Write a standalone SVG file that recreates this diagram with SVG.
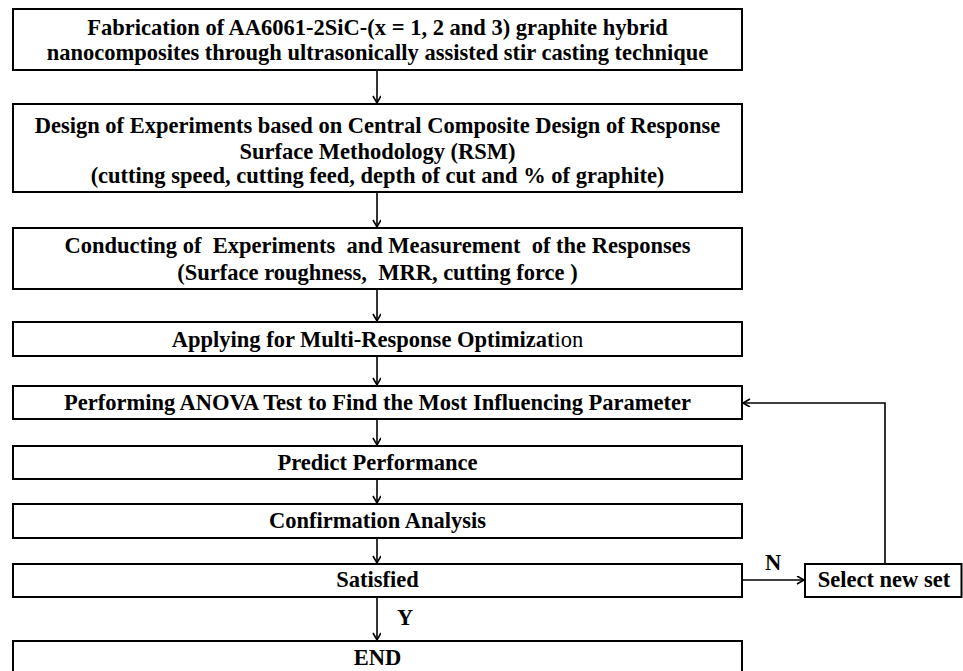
<svg xmlns="http://www.w3.org/2000/svg" width="963" height="671" viewBox="0 0 963 671">
<defs>
<marker id="ah" markerWidth="10" markerHeight="10" refX="8" refY="4" orient="auto" markerUnits="userSpaceOnUse">
<path d="M1,0 L8,4 L1,8" fill="none" stroke="#000" stroke-width="1.6"/>
</marker>
<style>
.box{fill:#fff;stroke:#000;stroke-width:2}
.t{font-family:"Liberation Serif","Times New Roman",serif;font-size:22.5px;font-weight:bold;text-anchor:middle;fill:#000}
.n{font-weight:normal}
.c{fill:none;stroke:#000;stroke-width:1.6;marker-end:url(#ah)}
</style>
</defs>
<rect width="963" height="671" fill="#fff"/>
<g id="connectors">
<line class="c" x1="377" y1="70" x2="377" y2="103"/>
<line class="c" x1="377" y1="192" x2="377" y2="227"/>
<line class="c" x1="377" y1="289" x2="377" y2="321"/>
<line class="c" x1="377" y1="356" x2="377" y2="385"/>
<line class="c" x1="377" y1="419" x2="377" y2="445"/>
<line class="c" x1="377" y1="479" x2="377" y2="503"/>
<line class="c" x1="377" y1="538" x2="377" y2="563"/>
<line class="c" x1="377" y1="597" x2="377" y2="640"/>
<line class="c" x1="742" y1="580" x2="804" y2="580"/>
<polyline class="c" points="885,564 885,403 743,403"/>
<text class="t" x="405" y="625">Y</text>
<text class="t" x="773" y="570">N</text>
</g>
<g id="n1">
<rect class="box" x="13" y="9" width="729" height="61"/>
<text class="t" x="377.5" y="35">Fabrication of AA6061-2SiC-(x = 1, 2 and 3) graphite hybrid</text>
<text class="t" x="377.5" y="60">nanocomposites through ultrasonically assisted stir casting technique</text>
</g>
<g id="n2">
<rect class="box" x="13" y="104" width="729" height="88"/>
<text class="t" x="377.5" y="133">Design of Experiments based on Central Composite Design of Response</text>
<text class="t" x="377.5" y="159">Surface Methodology (RSM)</text>
<text class="t" x="377.5" y="183">(cutting speed, cutting feed, depth of cut and % of graphite)</text>
</g>
<g id="n3">
<rect class="box" x="13" y="228" width="729" height="61"/>
<text class="t" x="377.5" y="253">Conducting of &#160;Experiments &#160;and Measurement &#160;of the Responses</text>
<text class="t" x="377.5" y="280">(Surface roughness, &#160;MRR, cutting force )</text>
</g>
<g id="n4">
<rect class="box" x="13" y="322" width="729" height="34"/>
<text class="t" x="377.5" y="347">Applying for Multi-Response Optimizat<tspan class="n">ion</tspan></text>
</g>
<g id="n5">
<rect class="box" x="13" y="386" width="729" height="33"/>
<text class="t" x="377.5" y="410">Performing ANOVA Test to Find the Most Influencing Parameter</text>
</g>
<g id="n6">
<rect class="box" x="13" y="446" width="729" height="33"/>
<text class="t" x="377.5" y="470">Predict Performance</text>
</g>
<g id="n7">
<rect class="box" x="13" y="504" width="729" height="34"/>
<text class="t" x="377.5" y="528">Confirmation Analysis</text>
</g>
<g id="n8">
<rect class="box" x="13" y="564" width="729" height="33"/>
<text class="t" x="377.5" y="587">Satisfied</text>
</g>
<g id="n9">
<rect class="box" x="13" y="641" width="729" height="40"/>
<text class="t" x="377.5" y="665">END</text>
</g>
<g id="n10">
<rect class="box" x="805" y="564" width="156.5" height="33"/>
<text class="t" x="884" y="587">Select new set</text>
</g>
</svg>
